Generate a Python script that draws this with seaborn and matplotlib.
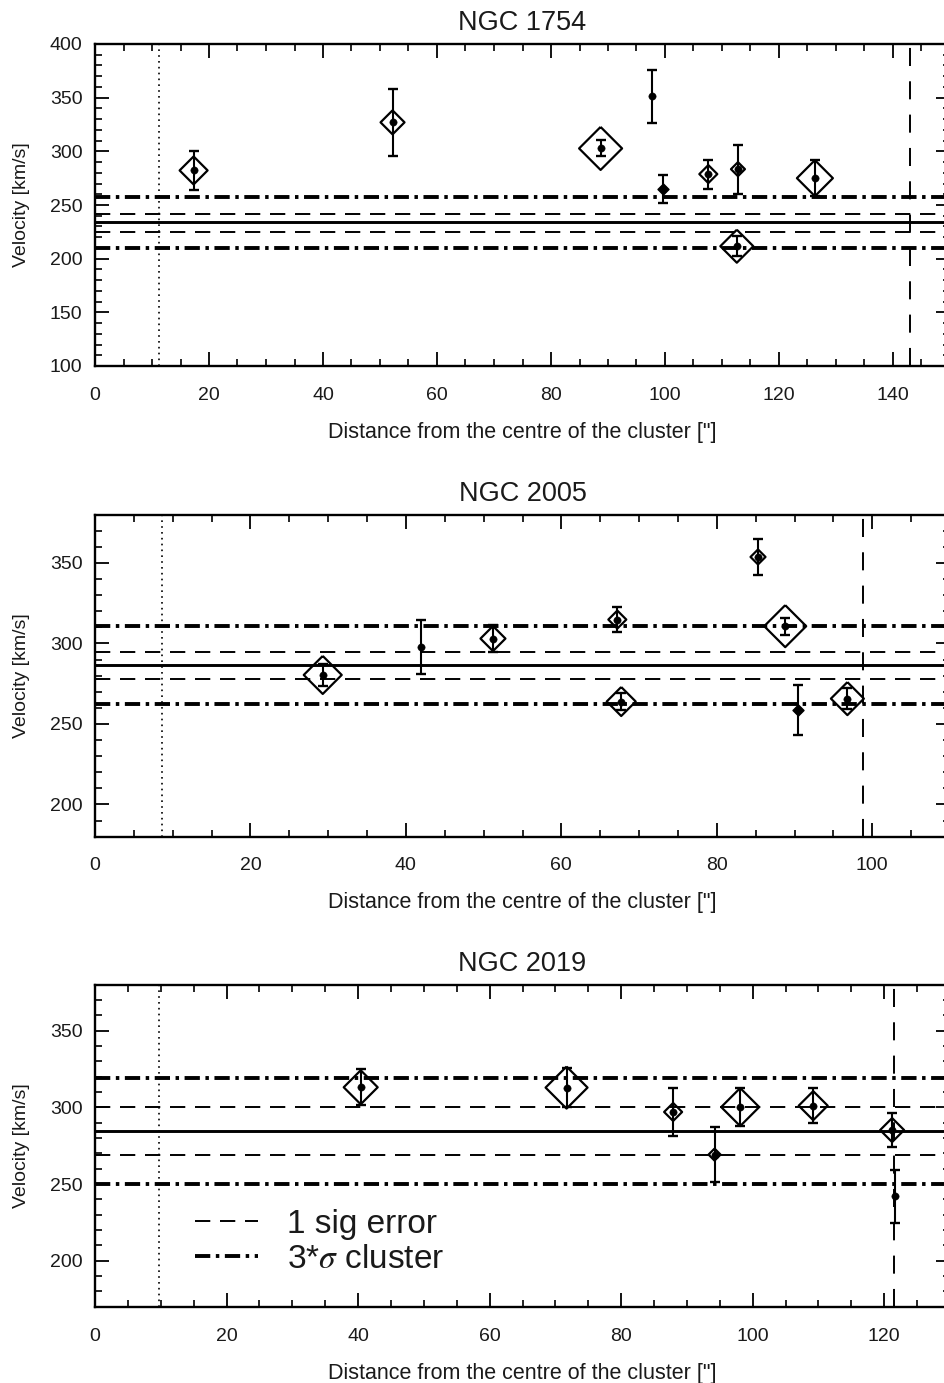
import numpy as np
import pandas as pd
import matplotlib
matplotlib.use("Agg")
import matplotlib.pyplot as plt
import seaborn as sns
from matplotlib.ticker import MultipleLocator

# ---------------- data ----------------
titles = ["NGC 1754", "NGC 2005", "NGC 2019"]
x_max = [150, 110, 130]
y_range = [(100, 400), (180, 380), (170, 380)]

# NGC 1754
dist_1754 = [17.3, 52.2, 88.7, 97.8, 99.7, 107.6, 112.8, 112.6, 126.3]
vel_1754 = [282.2, 327.0, 302.7, 351.2, 264.8, 278.8, 283.4, 211.6, 275.0]
err_1754 = [18.0, 31.0, 7.5, 25.0, 13.0, 13.5, 22.8, 9.5, 16.5]
diam_1754 = [28, 24, 43, 0, 11, 18, 14, 33, 36]
mean_1754 = 233.7
sig_err_1754 = [225.3, 241.8]
clip_1754 = [210.0, 257.3]
core_1754 = 11.3
tidal_1754 = 143.0

# NGC 2005
dist_2005 = [29.3, 42.0, 51.2, 67.2, 67.7, 85.3, 88.8, 90.5, 96.8]
vel_2005 = [280.4, 297.8, 303.0, 314.8, 263.9, 353.7, 310.7, 258.5, 265.7]
err_2005 = [6.7, 16.7, 8.4, 7.5, 5.0, 11.0, 5.2, 15.7, 6.5]
diam_2005 = [38, 0, 25, 18, 29, 15, 42, 11, 33]
mean_2005 = 286.4
sig_err_2005 = [277.7, 294.7]
clip_2005 = [262.2, 310.5]
core_2005 = 8.6
tidal_2005 = 98.8

# NGC 2019
dist_2019 = [40.4, 71.7, 87.9, 94.2, 98.1, 109.2, 121.2, 121.7]
vel_2019 = [313.1, 312.9, 297.0, 269.2, 300.2, 301.1, 285.2, 241.9]
err_2019 = [11.8, 12.5, 15.5, 17.7, 12.2, 11.3, 11.0, 17.4]
diam_2019 = [34, 42, 18, 12, 38, 29, 24, 0]
mean_2019 = 284.5
sig_err_2019 = [269.2, 300.2]
clip_2019 = [250.2, 319.4]
core_2019 = 9.8
tidal_2019 = 121.5

legend_labels = ["1 sig error", r"3*$\sigma$ cluster"]

panels = [
    (dist_1754, vel_1754, err_1754, diam_1754, mean_1754, sig_err_1754, clip_1754, core_1754, tidal_1754),
    (dist_2005, vel_2005, err_2005, diam_2005, mean_2005, sig_err_2005, clip_2005, core_2005, tidal_2005),
    (dist_2019, vel_2019, err_2019, diam_2019, mean_2019, sig_err_2019, clip_2019, core_2019, tidal_2019),
]

# ---------------- style ----------------
sns.set_theme(style="ticks")
plt.rcParams["font.family"] = ["Liberation Sans", "DejaVu Sans"]
plt.rcParams["mathtext.fontset"] = "stix"
plt.rcParams["lines.scale_dashes"] = False

DPI = 100
W, H = 944, 1383
fig = plt.figure(figsize=(W / DPI, H / DPI), dpi=DPI)

left_px, right_px = 95, 950
tops_px = [44, 514.6, 984.7]
ax_h_px = 322

diamond = [(0, 1), (1, 0), (0, -1), (-1, 0), (0, 1)]
PX2PT = 72 / DPI
TXT = "#1a1a1a"

for i, (dist, vel, err, diam, mean, sig_err, clip, core, tidal) in enumerate(panels):
    top = tops_px[i]
    ax = fig.add_axes([left_px / W, 1 - (top + ax_h_px) / H,
                       (right_px - left_px) / W, ax_h_px / H])
    df = pd.DataFrame({"dist": dist, "vel": vel, "err": err, "diam": diam})

    # reference lines
    ax.axvline(core, color="black", lw=1.2, ls=(0, (1.2, 3.0)), zorder=1)
    ax.axvline(tidal, color="black", lw=1.4, ls=(0, (13, 11)), zorder=1)
    ax.axhline(mean, color="black", lw=2.1, zorder=2)
    h_err = None
    h_clip = None
    for v in sig_err:
        h_err = ax.axhline(v, color="black", lw=1.4, ls=(0, (11, 7)), zorder=2)
    for v in clip:
        h_clip = ax.axhline(v, color="black", lw=2.8, ls=(0, (11, 4, 2.5, 4)), zorder=2)

    # error bars
    ax.errorbar(df["dist"], df["vel"], yerr=df["err"], fmt="none",
                ecolor="black", elinewidth=1.5, capsize=3.6, capthick=1.7, zorder=3)

    # open diamonds
    big = df[df["diam"] > 11]
    sns.scatterplot(x=big["dist"], y=big["vel"], ax=ax, marker=diamond,
                    s=(big["diam"] * PX2PT) ** 2, facecolors="none",
                    edgecolor="black", linewidth=1.6, zorder=4, legend=False)
    small = df[(df["diam"] > 0) & (df["diam"] <= 11)]
    if len(small):
        sns.scatterplot(x=small["dist"], y=small["vel"], ax=ax, marker=diamond,
                        s=(small["diam"] * PX2PT) ** 2, color="black",
                        edgecolor="black", linewidth=1.0, zorder=4, legend=False)
    # central dots
    sns.scatterplot(x=df["dist"], y=df["vel"], ax=ax, color="black", s=28,
                    edgecolor="black", linewidth=0.3, zorder=5, legend=False)

    ax.set_xlim(0, x_max[i])
    ax.set_ylim(*y_range[i])
    ax.xaxis.set_major_locator(MultipleLocator(20))
    ax.xaxis.set_minor_locator(MultipleLocator(5))
    ax.yaxis.set_major_locator(MultipleLocator(50))
    ax.yaxis.set_minor_locator(MultipleLocator(10))
    ax.tick_params(which="both", direction="in", top=True, right=True,
                   color="black", labelcolor=TXT, labelsize=14)
    ax.tick_params(which="major", length=10, width=1.3)
    ax.tick_params(which="minor", length=5, width=1.2)
    ax.tick_params(axis="x", which="major", pad=15)
    ax.tick_params(axis="y", which="major", pad=9)
    for s in ax.spines.values():
        s.set_linewidth(1.7)
        s.set_color("black")
    ax.set_xlabel('Distance from the centre of the cluster ["]', fontsize=15.5,
                  labelpad=13, color=TXT)
    ax.set_ylabel("Velocity [km/s]", fontsize=14, labelpad=14, color=TXT)
    ax.set_title(titles[i], fontsize=19.5, pad=10, color=TXT)

    if i == 2:
        h_err.set_label(legend_labels[0])
        h_clip.set_label(legend_labels[1])
        leg = ax.legend(handles=[h_err, h_clip], loc="center left",
                        bbox_to_anchor=(0.117, 0.202), frameon=False,
                        fontsize=24, handlelength=1.9, handletextpad=0.85,
                        labelspacing=0.12, borderpad=0, borderaxespad=0)
        for t in leg.get_texts():
            t.set_color(TXT)

fig.savefig("out.png", dpi=DPI)
